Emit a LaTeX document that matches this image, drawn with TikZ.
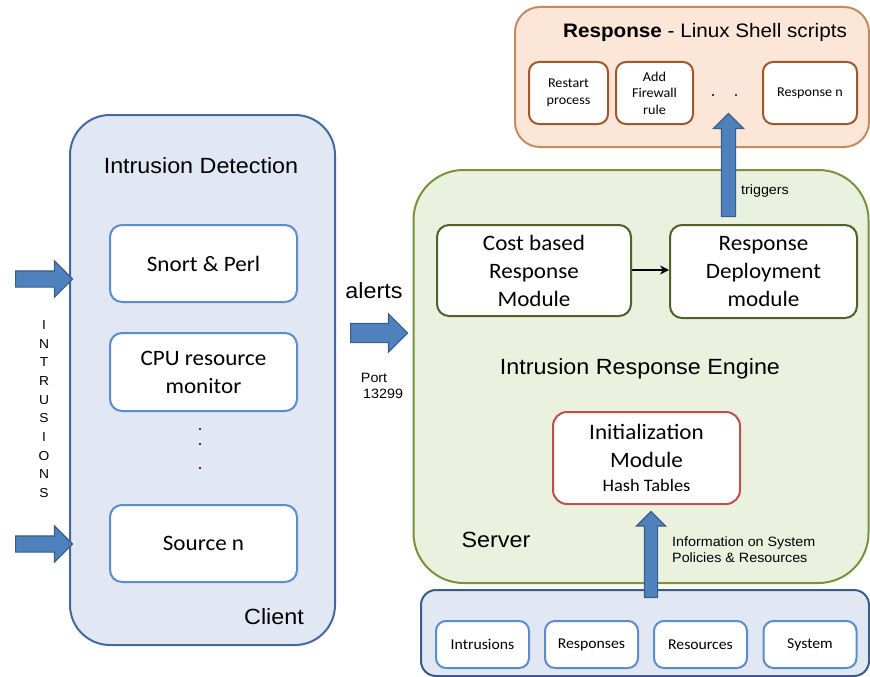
\documentclass[tikz,border=0pt]{standalone}
\usepackage{fontspec}
\setmainfont[FakeStretch=1.05]{Carlito}
\newfontfamily\arialf[FakeStretch=1.06]{Liberation Sans}
\usetikzlibrary{shapes.arrows,arrows.meta}

\definecolor{clientfill}{HTML}{E1E8F3}
\definecolor{clientline}{HTML}{4469A0}
\definecolor{innerblue}{HTML}{5B8CCB}
\definecolor{serverfill}{HTML}{EBF1DF}
\definecolor{serverline}{HTML}{77933C}
\definecolor{moduleline}{HTML}{4F6228}
\definecolor{initline}{HTML}{C0504D}
\definecolor{respfill}{HTML}{FCE6D8}
\definecolor{respline}{HTML}{C38B5E}
\definecolor{respinner}{HTML}{A0582A}
\definecolor{arrowfill}{HTML}{4F81BD}
\definecolor{arrowline}{HTML}{385D8A}

\tikzset{
  panel/.style={draw, line width=2pt, rectangle, inner sep=0pt},
  card/.style={draw, line width=2pt, rectangle, fill=white, align=center, inner sep=0pt,
    font=\fontsize{22}{28}\selectfont},
  blockarrow/.style={single arrow, draw=arrowline, fill=arrowfill, line width=1.2pt,
    inner xsep=0pt, single arrow tip angle=90, anchor=tail},
  label/.style={font=\arialf\fontsize{22}{26}\selectfont, inner sep=0pt},
  smalllabel/.style={font=\arialf\fontsize{13.5}{16}\selectfont, inner sep=0pt, align=left},
  dotmark/.style={fill=black, circle, inner sep=0pt, minimum size=2.2pt},
}

\begin{document}
\begin{tikzpicture}[x=1pt, y=-1pt]
\useasboundingbox (0,0) rectangle (870,677);

% ---------------- Client side ----------------
\node[panel, fill=clientfill, draw=clientline, rounded corners=40pt,
      minimum width=265pt, minimum height=530pt] (client) at (202.5,380) {};
\node[label] (idtitle) at (201,166) {Intrusion Detection};
\node[label] (clientlbl) at (274,617) {Client};

\node[card, draw=innerblue, rounded corners=12pt, minimum width=187pt, minimum height=77pt]
  (snort) at (203.5,263.5) {Snort \& Perl};
\node[card, draw=innerblue, rounded corners=12pt, minimum width=187pt, minimum height=78pt]
  (cpu) at (203.5,372) {CPU resource\\monitor};
\node[card, draw=innerblue, rounded corners=12pt, minimum width=187pt, minimum height=77pt]
  (srcn) at (203.5,543.5) {Source n};

\node[dotmark] (cd1) at (200,429) {};
\node[dotmark] (cd2) at (200,444) {};
\node[dotmark] (cd3) at (200,468) {};

% incoming intrusions
\coordinate (inAtail) at (15,279);
\coordinate (inBtail) at (15,544);
\node[blockarrow, inner ysep=7.5pt, single arrow head extend=10pt, minimum height=57pt]
  (inA) at (inAtail) {};
\node[blockarrow, inner ysep=7.5pt, single arrow head extend=10pt, minimum height=57pt]
  (inB) at (inBtail) {};
\node[font=\arialf\fontsize{13}{18.67}\selectfont, align=center, inner sep=0pt]
  (intr) at (44,409) {I\\N\\T\\R\\U\\S\\I\\O\\N\\S};

% alerts to the server
\coordinate (alerttail) at (350,333);
\node[blockarrow, inner ysep=9pt, single arrow head extend=9.5pt, minimum height=57pt]
  (alertarrow) at (alerttail) {};
\node[label] (alerts) at (374,291) {alerts};
\node[smalllabel] (port) at (382,386) {Port\\\,13299};

% ---------------- Server ----------------
\node[panel, fill=serverfill, draw=serverline, rounded corners=50pt,
      minimum width=455pt, minimum height=413pt] (server) at (641,376.5) {};
\node[label] (engine) at (640,369) {Intrusion Response Engine};
\node[label] (serverlbl) at (496,540) {Server};

\node[card, draw=moduleline, rounded corners=12pt, minimum width=194pt, minimum height=91pt]
  (cost) at (534,270.5) {Cost based\\Response\\Module};
\node[card, draw=moduleline, rounded corners=12pt, minimum width=187pt, minimum height=93pt]
  (deploy) at (763.5,271.5) {Response\\Deployment\\module};
\draw[line width=2pt, -{Stealth[length=9pt,width=9pt]}] (cost.east |- 0,270) -- (deploy.west |- 0,270);

\node[card, draw=initline, rounded corners=14pt, minimum width=187pt, minimum height=92pt]
  (init) at (646.5,458) {Initialization\\Module\\[-4pt]{\fontsize{17.5}{20}\selectfont Hash Tables}};

% ---------------- Response scripts ----------------
\node[panel, fill=respfill, draw=respline, rounded corners=25pt,
      minimum width=354pt, minimum height=140pt] (resp) at (692,77) {};
\node[font=\arialf\fontsize{19.5}{24}\selectfont, inner sep=0pt] (resptitle) at (705,32)
  {\textbf{Response} - Linux Shell scripts};
\node[card, draw=respinner, rounded corners=10pt, minimum width=79pt, minimum height=62pt,
      font=\fontsize{13.5}{16.5}\selectfont] (restart) at (568.5,93) {Restart\\process};
\node[card, draw=respinner, rounded corners=10pt, minimum width=77pt, minimum height=62pt,
      font=\fontsize{13.5}{16.5}\selectfont] (firewall) at (654.5,93) {Add\\Firewall\\rule};
\node[card, draw=respinner, rounded corners=10pt, minimum width=94pt, minimum height=62pt,
      font=\fontsize{13.5}{16.5}\selectfont] (respn) at (810,93) {Response n};
\node[dotmark] (rd1) at (713,95) {};
\node[dotmark] (rd2) at (736,95) {};

\coordinate (trigtail) at (728.5,217);
\node[blockarrow, inner ysep=6.5pt, single arrow head extend=8pt, minimum height=103pt,
      rotate=90] (trig) at (trigtail) {};
\node[smalllabel] (triggers) at (765,191) {triggers};

% ---------------- Data store ----------------
\node[panel, fill=clientfill, draw=arrowline, rounded corners=15pt,
      minimum width=448pt, minimum height=86pt] (store) at (645,633) {};
\foreach \nm/\cx/\txt in {sIntr/482.5/Intrusions, sResp/591.5/Responses,
                         sRes/700.5/Resources, sSys/810/System}{
  \node[card, draw=innerblue, rounded corners=10pt, minimum width=93pt, minimum height=47pt,
        font=\fontsize{15}{18}\selectfont] (\nm) at (\cx,644.5) {\txt};
}

\coordinate (infotail) at (651,598);
\node[blockarrow, inner ysep=6pt, single arrow head extend=8pt, minimum height=86pt,
      rotate=90] (info) at (infotail) {};
\node[smalllabel, anchor=west] (infolbl) at (672,550) {Information on System\\Policies \& Resources};

\end{tikzpicture}
\end{document}
